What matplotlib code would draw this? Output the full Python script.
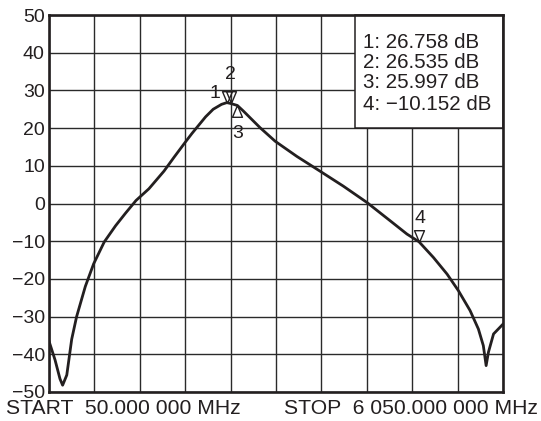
import numpy as np
import matplotlib.pyplot as plt
from matplotlib.patches import Rectangle

plt.rcParams['font.family'] = ['Liberation Sans', 'DejaVu Sans']
plt.rcParams['axes.unicode_minus'] = True

ink = '#231f20'

# measured trace, MHz vs dB
freq = [50, 130, 195, 230, 285, 350, 415, 530, 640, 780, 930, 1060, 1200,
        1370, 1570, 1700, 1860, 1940, 2030, 2120, 2220, 2330, 2400, 2450,
        2540, 2620, 2840, 3040, 3325, 3630, 3940, 4250, 4560, 4780, 4940,
        5130, 5310, 5460, 5615, 5725, 5790, 5827, 5858, 5925, 6050]
gain = [-36.5, -41.5, -46.5, -48.2, -45.5, -36.0, -30.0, -22.0, -16.0, -10.2,
        -5.9, -2.6, 0.8, 3.9, 8.6, 12.2, 16.5, 18.6, 20.8, 23.0, 25.0, 26.3,
        26.758, 26.535, 25.997, 24.5, 20.1, 16.5, 12.5, 8.6, 4.6, 0.3, -4.6,
        -8.1, -10.152, -14.3, -18.7, -23.1, -28.4, -33.3, -37.7, -43.0,
        -39.4, -34.6, -32.0]

marker_freq = [2400, 2450, 2540, 4940]
marker_gain = [26.758, 26.535, 25.997, -10.152]
marker_name = ['1', '2', '3', '4']

start_label = 'START  50.000 000 MHz'
stop_label = 'STOP  6 050.000 000 MHz'

fig = plt.figure(figsize=(5.41, 4.21), dpi=100)
ax = fig.add_axes([49 / 541, 29 / 421, 454 / 541, 377 / 421])
ax.set_xlim(50, 6050)
ax.set_ylim(-50, 50)
ax.set_xticks(np.arange(50, 6051, 600))
ax.set_yticks(np.arange(-50, 51, 10))
ax.tick_params(axis='x', length=0, labelbottom=False)
ax.tick_params(axis='y', length=0, pad=3, labelsize=14, labelcolor=ink)
ax.grid(color='#2a2a2a', lw=1.0)
ax.set_axisbelow(True)
for s in ax.spines.values():
    s.set_linewidth(1.9)
    s.set_color(ink)
    s.set_zorder(6)

ax.plot(freq, gain, color=ink, lw=2.0, zorder=4)

# marker triangles with the tip sitting on the trace
down = [(0, 0), (-0.42, 1), (0.42, 1), (0, 0)]
up = [(0, 0), (-0.42, -1), (0.42, -1), (0, 0)]
shapes = [down, down, up, down]
offsets = [(-12, 9), (0, 29), (0, -28), (1, 23)]
for f, g, name, shp, off in zip(marker_freq, marker_gain, marker_name, shapes, offsets):
    ax.plot([f], [g], marker=shp, ms=17, mfc='none', mec=ink, mew=1.0,
            ls='none', zorder=5)
    ax.annotate(name, (f, g), xytext=off, textcoords='offset pixels',
                ha='center', va='center', fontsize=14, color=ink, zorder=5)

# readout box
ax.add_patch(Rectangle((306 / 454, 0.7), 1 - 306 / 454, 0.3,
                       transform=ax.transAxes, fc='white', ec=ink, lw=1.1,
                       zorder=3, clip_on=False))
rows_y = [42.8, 62.5, 82.8, 105.0]
for name, g, y in zip(marker_name, marker_gain, rows_y):
    txt = f'{name}: {g:.3f} dB'.replace('-', '\u2212')
    fig.text(363 / 541, 1 - y / 421, txt, ha='left', va='center',
             fontsize=14.8, color=ink)

fig.text(6 / 541, 1 - 408 / 421, start_label, ha='left', va='center',
         fontsize=15.2, color=ink)
fig.text(538 / 541, 1 - 408 / 421, stop_label, ha='right', va='center',
         fontsize=15.2, color=ink)

fig.savefig('out.png', dpi=100)
